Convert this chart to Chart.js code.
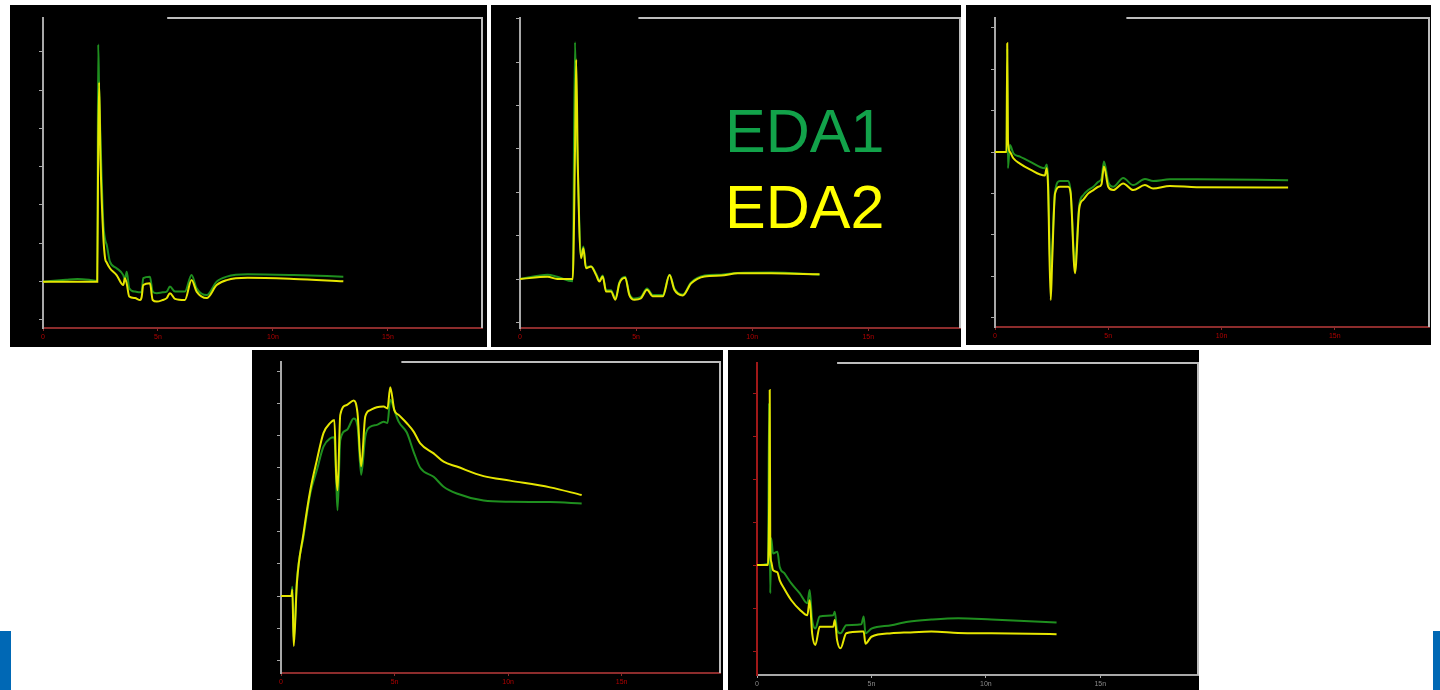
<!DOCTYPE html>
<html>
<head>
<meta charset="utf-8">
<script src="https://cdn.jsdelivr.net/npm/chart.js@4.4.1/dist/chart.umd.min.js"></script>
<style>
body { margin: 0; background: #fff; width: 1440px; height: 690px; overflow: hidden; position: relative; font-family: "Liberation Sans", Arial, sans-serif; }
.panel { position: absolute; background: #000; }
.panel canvas { display: block; }
.bar { position: absolute; background: #0068b5; }
.lbl { position: absolute; font-size: 61px; line-height: 61px; white-space: nowrap; }
</style>
</head>
<body>
<div class="panel" style="left:10px;top:5px;width:477px;height:342px"><canvas id="c1" width="477" height="342"></canvas></div>
<div class="panel" style="left:491px;top:5px;width:470px;height:342px"><canvas id="c2" width="470" height="342"></canvas></div>
<div class="panel" style="left:966px;top:5px;width:465px;height:340px"><canvas id="c3" width="465" height="340"></canvas></div>
<div class="panel" style="left:252px;top:350px;width:471px;height:340px"><canvas id="c4" width="471" height="340"></canvas></div>
<div class="panel" style="left:728px;top:350px;width:471px;height:340px"><canvas id="c5" width="471" height="340"></canvas></div>
<div class="lbl" style="left:725px;top:101px;color:#12a24a">EDA1</div>
<div class="lbl" style="left:725px;top:177px;color:#ffff00">EDA2</div>
<div class="bar" style="left:0;top:631px;width:11px;height:59px"></div>
<div class="bar" style="left:1433px;top:631px;width:7px;height:59px"></div>
<script>
// time axis (ns) shared by all panels
const xTickValues = [0, 5, 10, 15];
const xTickLabels = ['0', '5n', '10n', '15n'];

// panel 1
const p1Time = [0, 1.0, 1.5, 2.0, 2.36, 2.40, 2.44, 2.5, 2.62, 2.7, 2.77, 2.91, 3.2, 3.49, 3.56, 3.64, 3.75, 4.0, 4.22, 4.29, 4.36, 4.65, 4.77, 4.95, 5.2, 5.38, 5.52, 5.74, 6.17, 6.46, 6.68, 7.12, 7.55, 7.99, 8.9, 10.9, 13.06];
const p1Eda1 = [1.0, 1.05, 1.07, 1.05, 1.02, 7.19, 6.0, 4.74, 2.56, 2.1, 1.96, 1.52, 1.35, 1.17, 1.05, 1.26, 0.83, 0.74, 0.72, 0.74, 1.09, 1.13, 0.74, 0.70, 0.72, 0.74, 0.87, 0.74, 0.74, 1.17, 0.83, 0.65, 1.0, 1.13, 1.19, 1.17, 1.13];
const p1Eda2 = [1.0, 1.0, 1.0, 1.0, 1.0, 4.5, 6.2, 4.2, 2.2, 1.61, 1.5, 1.35, 1.17, 0.91, 1.09, 0.95, 0.61, 0.57, 0.52, 0.6, 0.91, 0.96, 0.52, 0.48, 0.52, 0.57, 0.70, 0.55, 0.52, 1.04, 0.74, 0.57, 0.91, 1.04, 1.10, 1.07, 1.01];
const p1YTicks = [0, 1, 2, 3, 4, 5, 6, 7];

// panel 2
const p2Time = [0, 1.19, 1.6, 2.27, 2.37, 2.42, 2.49, 2.63, 2.73, 2.84, 3.06, 3.28, 3.42, 3.56, 3.71, 3.92, 4.11, 4.28, 4.53, 4.71, 4.93, 5.2, 5.47, 5.72, 6.15, 6.44, 6.65, 7.01, 7.37, 7.95, 8.66, 9.38, 10.82, 12.9];
const p2Eda1 = [1.0, 1.1, 1.05, 0.95, 6.46, 5.0, 3.5, 1.5, 1.75, 1.28, 1.29, 1.12, 0.97, 1.08, 0.74, 0.74, 0.55, 0.92, 1.05, 0.66, 0.55, 0.58, 0.78, 0.63, 0.63, 1.1, 0.78, 0.64, 0.92, 1.08, 1.1, 1.14, 1.15, 1.1];
const p2Eda2 = [1.0, 1.05, 1.0, 1.0, 4.0, 6.06, 3.63, 1.48, 1.71, 1.25, 1.29, 1.09, 0.94, 1.06, 0.71, 0.71, 0.52, 0.90, 1.03, 0.63, 0.52, 0.55, 0.75, 0.6, 0.6, 1.09, 0.75, 0.62, 0.9, 1.06, 1.08, 1.13, 1.13, 1.11];
const p2YTicks = [0, 1, 2, 3, 4, 5, 6, 7];

// panel 3
const p3Time = [0, 0.51, 0.54, 0.57, 0.66, 0.81, 1.1, 1.54, 2.2, 2.28, 2.34, 2.46, 2.52, 2.65, 2.87, 3.23, 3.34, 3.53, 3.72, 3.9, 4.12, 4.34, 4.56, 4.7, 4.81, 5.0, 5.22, 5.66, 6.1, 6.62, 6.98, 7.72, 8.9, 12.94];
const p3Eda1 = [4.0, 4.0, 6.5, 3.61, 4.17, 3.97, 3.89, 3.77, 3.61, 3.7, 3.4, 0.9, 1.6, 3.04, 3.3, 3.3, 3.04, 1.3, 2.72, 2.96, 3.08, 3.16, 3.28, 3.36, 3.77, 3.28, 3.16, 3.37, 3.2, 3.35, 3.3, 3.34, 3.34, 3.32];
const p3Eda2 = [4.0, 4.0, 6.63, 4.3, 4.0, 3.85, 3.72, 3.58, 3.43, 3.61, 3.2, 0.42, 1.3, 3.0, 3.16, 3.16, 3.0, 1.07, 2.64, 2.85, 3.0, 3.08, 3.16, 3.22, 3.65, 3.16, 3.08, 3.24, 3.08, 3.2, 3.12, 3.18, 3.15, 3.14];
const p3YTicks = [0, 1, 2, 3, 4, 5, 6, 7];

// panel 4
const p4Time = [0, 0.46, 0.5, 0.56, 0.7, 0.99, 1.29, 1.58, 1.87, 2.17, 2.35, 2.43, 2.49, 2.61, 2.9, 3.2, 3.37, 3.53, 3.71, 3.93, 4.22, 4.52, 4.69, 4.81, 4.99, 5.18, 5.54, 5.84, 6.13, 6.72, 7.16, 7.74, 8.92, 10.09, 11.85, 13.24];
const p4Eda1 = [2.0, 2.0, 2.29, 0.62, 2.5, 3.85, 5.2, 5.93, 6.66, 6.92, 6.95, 5.6, 4.68, 6.87, 7.18, 7.54, 7.3, 5.78, 6.97, 7.28, 7.34, 7.44, 7.4, 8.12, 7.8, 7.44, 7.1, 6.5, 6.0, 5.72, 5.41, 5.2, 4.98, 4.94, 4.93, 4.89];
const p4Eda2 = [2.0, 2.0, 2.2, 0.44, 2.4, 3.95, 5.3, 6.24, 7.08, 7.4, 7.49, 5.8, 5.3, 7.65, 7.96, 8.1, 7.7, 6.04, 7.6, 7.8, 7.89, 7.91, 7.85, 8.51, 7.8, 7.65, 7.39, 7.13, 6.76, 6.45, 6.19, 6.04, 5.74, 5.6, 5.39, 5.15];
const p4YTicks = [0, 1, 2, 3, 4, 5, 6, 7, 8, 9];

// panel 5
const p5Time = [0, 0.48, 0.53, 0.556, 0.58, 0.62, 0.7, 0.89, 0.99, 1.21, 1.5, 1.87, 2.2, 2.3, 2.41, 2.55, 2.74, 3.33, 3.4, 3.5, 3.65, 3.9, 4.56, 4.66, 4.74, 5.0, 5.87, 6.6, 7.62, 8.79, 10.24, 13.09];
const p5Eda1 = [2.02, 2.05, 5.78, 3.0, 1.36, 2.64, 2.29, 2.33, 1.98, 1.82, 1.59, 1.36, 1.13, 1.44, 0.74, 0.54, 0.82, 0.85, 0.93, 0.5, 0.43, 0.62, 0.64, 0.82, 0.43, 0.54, 0.62, 0.7, 0.75, 0.78, 0.75, 0.68];
const p5Eda2 = [2.02, 2.02, 3.5, 6.09, 2.37, 2.1, 1.9, 1.85, 1.67, 1.45, 1.2, 0.98, 0.85, 1.2, 0.43, 0.16, 0.58, 0.58, 0.74, 0.27, 0.08, 0.43, 0.47, 0.47, 0.19, 0.35, 0.43, 0.45, 0.47, 0.44, 0.43, 0.41];
const p5YTicks = [0, 1, 2, 3, 4, 5, 6];

const GREEN = '#1f8f1f';
const YELLOW = '#e6e600';
const GRAY = '#a8a8a8';
const AXIS_RED = '#8c2c2c';
const LABEL_RED = '#b00000';

// top and right edge of the scope frame
const framePlugin = {
    id: 'frame',
    afterDraw(chart, args, o) {
        const ctx = chart.ctx;
        const a = chart.chartArea;
        ctx.save();
        ctx.strokeStyle = '#bdbdbd';
        ctx.lineWidth = 2;
        ctx.beginPath();
        ctx.moveTo(chart.scales.x.getPixelForValue(o.topFrom), a.top);
        ctx.lineTo(a.right, a.top);
        ctx.lineTo(a.right, a.bottom);
        ctx.stroke();
        ctx.restore();
    }
};

function makePanel(id, time, eda1, eda2, yTicks, opts) {
    const toPts = vals => vals.map((v, i) => ({x: time[i], y: v}));
    return new Chart(document.getElementById(id), {
        type: 'line',
        data: {
            datasets: [
                {label: 'EDA1', data: toPts(eda1), borderColor: GREEN, borderWidth: 2, pointRadius: 0, cubicInterpolationMode: 'monotone', order: 1},
                {label: 'EDA2', data: toPts(eda2), borderColor: YELLOW, borderWidth: 2, pointRadius: 0, cubicInterpolationMode: 'monotone', order: 0}
            ]
        },
        options: {
            responsive: false,
            animation: false,
            layout: {padding: opts.pad},
            plugins: {
                legend: {display: false},
                tooltip: {enabled: false},
                frame: {topFrom: opts.topFrom}
            },
            scales: {
                x: {
                    type: 'linear', min: 0, max: opts.xMax,
                    afterBuildTicks: s => { s.ticks = xTickValues.map(v => ({value: v})); },
                    afterFit: s => { s.height = opts.xH; },
                    border: {color: opts.xAxisColor, width: 2},
                    grid: {drawOnChartArea: false, color: opts.xAxisColor, tickLength: 3},
                    ticks: {
                        color: opts.xLabelColor, font: {size: 7}, padding: 2, maxRotation: 0,
                        callback: v => xTickLabels[xTickValues.indexOf(v)]
                    }
                },
                y: {
                    min: opts.yMin, max: opts.yMax,
                    afterBuildTicks: s => { s.ticks = yTicks.map(v => ({value: v})); },
                    afterFit: s => { s.width = 6; },
                    border: {color: opts.yAxisColor, width: 2},
                    grid: {drawOnChartArea: false, color: opts.yAxisColor, tickLength: 4},
                    ticks: {display: false}
                }
            }
        },
        plugins: [framePlugin]
    });
}

makePanel('c1', p1Time, p1Eda1, p1Eda2, p1YTicks, {
    pad: {left: 27, right: 5, top: 13, bottom: 3}, xH: 16, xMax: 19.09, yMin: -0.21, yMax: 7.88, topFrom: 5.4,
    xAxisColor: AXIS_RED, xLabelColor: LABEL_RED, yAxisColor: GRAY
});
makePanel('c2', p2Time, p2Eda1, p2Eda2, p2YTicks, {
    pad: {left: 23, right: 1, top: 13, bottom: 3}, xH: 16, xMax: 18.95, yMin: -0.13, yMax: 7.02, topFrom: 5.1,
    xAxisColor: AXIS_RED, xLabelColor: LABEL_RED, yAxisColor: GRAY
});
makePanel('c3', p3Time, p3Eda1, p3Eda2, p3YTicks, {
    pad: {left: 23, right: 2, top: 13, bottom: 2}, xH: 16, xMax: 19.16, yMin: -0.23, yMax: 7.24, topFrom: 5.8,
    xAxisColor: AXIS_RED, xLabelColor: LABEL_RED, yAxisColor: GRAY
});
makePanel('c4', p4Time, p4Eda1, p4Eda2, p4YTicks, {
    pad: {left: 23, right: 3, top: 12, bottom: 1}, xH: 16, xMax: 19.33, yMin: -0.4, yMax: 9.3, topFrom: 5.3,
    xAxisColor: AXIS_RED, xLabelColor: LABEL_RED, yAxisColor: GRAY
});
makePanel('c5', p5Time, p5Eda1, p5Eda2, p5YTicks, {
    pad: {left: 23, right: 1, top: 13, bottom: 0}, xH: 15, xMax: 19.27, yMin: -0.54, yMax: 6.72, topFrom: 3.5,
    xAxisColor: GRAY, xLabelColor: '#8a8a8a', yAxisColor: '#a01818'
});
</script>
</body>
</html>
